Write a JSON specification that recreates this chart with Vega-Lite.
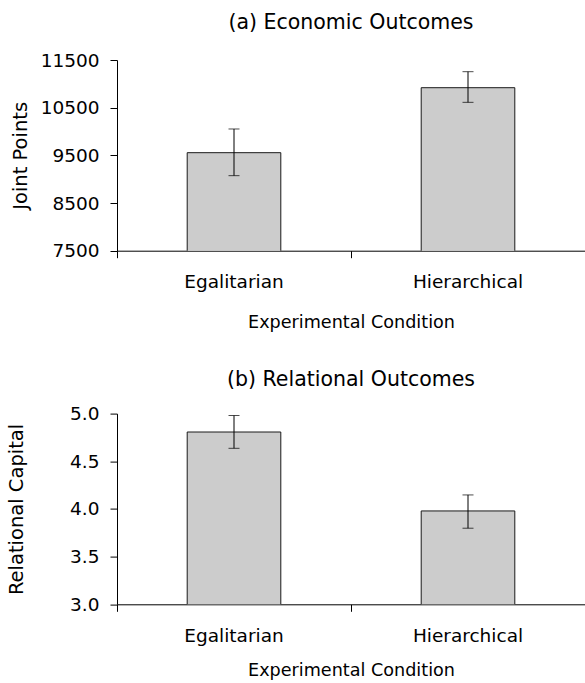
{
  "$schema": "https://vega.github.io/schema/vega-lite/v6.json",
  "padding": {"left": 5, "top": 12, "right": 0, "bottom": 0},
  "background": "white",
  "bounds": "flush",
  "spacing": 162.6,
  "config": {
    "font": "DejaVu Sans",
    "view": {"stroke": null},
    "axis": {
      "grid": false,
      "domainColor": "#000000",
      "tickColor": "#000000",
      "labelColor": "#000000",
      "titleColor": "#000000",
      "labelFont": "DejaVu Sans",
      "titleFont": "DejaVu Sans",
      "titleFontWeight": "normal",
      "labelFontSize": 18.5,
      "titleFontSize": 17.6,
      "tickSize": 7,
      "tickWidth": 1,
      "domainWidth": 1
    },
    "title": {"font": "DejaVu Sans", "fontSize": 20.5, "fontWeight": "normal", "color": "#000000", "anchor": "middle", "frame": "group", "baseline": "alphabetic"}
  },
  "vconcat": [
    {
      "width": 468,
      "height": 190.7,
      "title": {"text": "(a) Economic Outcomes", "offset": 18},
      "data": {"values": [
        {"condition": "Egalitarian", "mean": 9556, "lo": 9074, "hi": 10053},
        {"condition": "Hierarchical", "mean": 10919, "lo": 10612, "hi": 11255}
      ]},
      "encoding": {
        "x": {"field": "condition", "type": "nominal", "sort": null,
          "scale": {"paddingInner": 0, "paddingOuter": 0},
          "axis": {"title": "Experimental Condition", "labelAngle": 0, "bandPosition": 1, "tickExtra": true, "labelPadding": 15, "titlePadding": 22}}
      },
      "layer": [
        {"mark": {"type": "bar", "fill": "#cccccc", "stroke": "#1a1a1a", "strokeWidth": 1, "width": {"band": 0.4}, "clip": true},
         "encoding": {"y": {"field": "mean", "type": "quantitative", "title": "Joint Points",
           "scale": {"domain": [7500, 11500], "nice": false, "zero": false},
           "axis": {"values": [7500, 8500, 9500, 10500, 11500], "format": "d", "labelPadding": 11, "titleX": -91, "titleBaseline": "alphabetic", "titleFontSize": 19.5}}}},
        {"mark": {"type": "rule", "color": "#000000", "strokeWidth": 1},
         "encoding": {"y": {"field": "lo", "type": "quantitative", "title": "Joint Points"}, "y2": {"field": "hi"}}},
        {"mark": {"type": "tick", "color": "#000000", "size": 11, "thickness": 1},
         "encoding": {"y": {"field": "lo", "type": "quantitative", "title": "Joint Points"}}},
        {"mark": {"type": "tick", "color": "#000000", "size": 11, "thickness": 1},
         "encoding": {"y": {"field": "hi", "type": "quantitative", "title": "Joint Points"}}}
      ]
    },
    {
      "width": 468,
      "height": 190.7,
      "title": {"text": "(b) Relational Outcomes", "offset": 14.6},
      "data": {"values": [
        {"condition": "Egalitarian", "mean": 4.807, "lo": 4.636, "hi": 4.98},
        {"condition": "Hierarchical", "mean": 3.979, "lo": 3.798, "hi": 4.147}
      ]},
      "encoding": {
        "x": {"field": "condition", "type": "nominal", "sort": null,
          "scale": {"paddingInner": 0, "paddingOuter": 0},
          "axis": {"title": "Experimental Condition", "labelAngle": 0, "bandPosition": 1, "tickExtra": true, "labelPadding": 15, "titlePadding": 17}}
      },
      "layer": [
        {"mark": {"type": "bar", "fill": "#cccccc", "stroke": "#1a1a1a", "strokeWidth": 1, "width": {"band": 0.4}, "clip": true},
         "encoding": {"y": {"field": "mean", "type": "quantitative", "title": "Relational Capital",
           "scale": {"domain": [3, 5], "nice": false, "zero": false},
           "axis": {"values": [3, 3.5, 4, 4.5, 5], "format": ".1f", "labelPadding": 11, "titleX": -95, "titleBaseline": "alphabetic", "titleFontSize": 19.5}}}},
        {"mark": {"type": "rule", "color": "#000000", "strokeWidth": 1},
         "encoding": {"y": {"field": "lo", "type": "quantitative", "title": "Relational Capital"}, "y2": {"field": "hi"}}},
        {"mark": {"type": "tick", "color": "#000000", "size": 11, "thickness": 1},
         "encoding": {"y": {"field": "lo", "type": "quantitative", "title": "Relational Capital"}}},
        {"mark": {"type": "tick", "color": "#000000", "size": 11, "thickness": 1},
         "encoding": {"y": {"field": "hi", "type": "quantitative", "title": "Relational Capital"}}}
      ]
    }
  ]
}
